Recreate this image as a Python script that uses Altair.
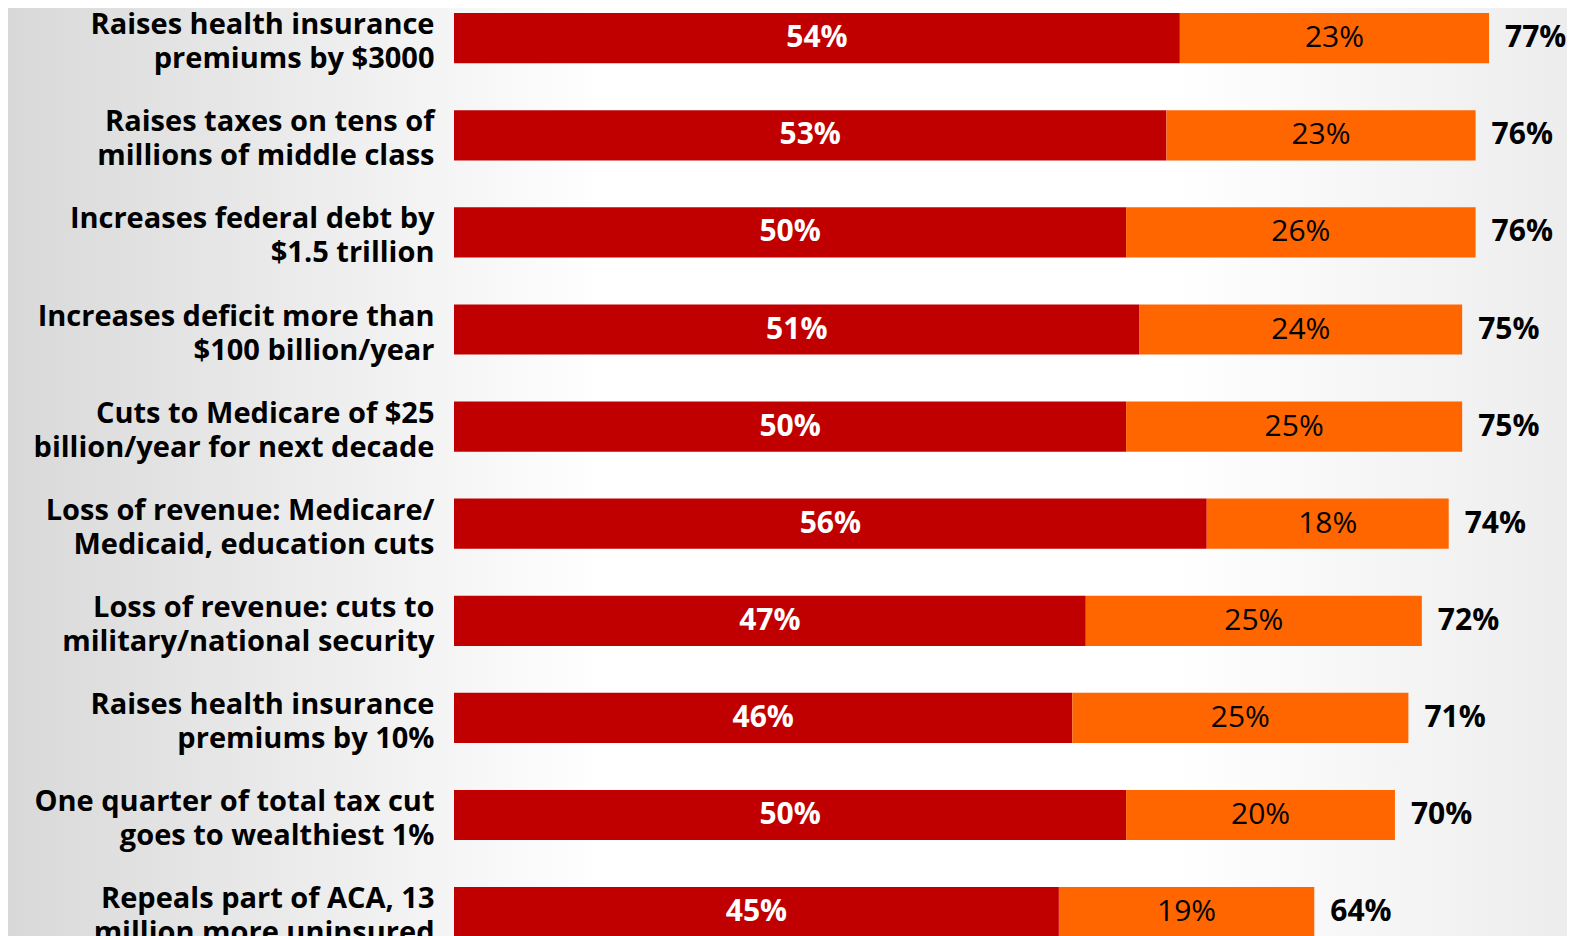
import altair as alt
import pandas as pd

categories = [
    "Raises health insurance\npremiums by $3000",
    "Raises taxes on tens of\nmillions of middle class",
    "Increases federal debt by\n$1.5 trillion",
    "Increases deficit more than\n$100 billion/year",
    "Cuts to Medicare of $25\nbillion/year for next decade",
    "Loss of revenue: Medicare/\nMedicaid, education cuts",
    "Loss of revenue: cuts to\nmilitary/national security",
    "Raises health insurance\npremiums by 10%",
    "One quarter of total tax cut\ngoes to wealthiest 1%",
    "Repeals part of ACA, 13\nmillion more uninsured",
]
red_values = [54, 53, 50, 51, 50, 56, 47, 46, 50, 45]
orange_values = [23, 23, 26, 24, 25, 18, 25, 25, 20, 19]
total_values = [77, 76, 76, 75, 75, 74, 72, 71, 70, 64]

df = pd.DataFrame({
    "cat": categories,
    "red": red_values,
    "orange": orange_values,
    "total": total_values,
})

W = 1113
H = 928
FONT = "Open Sans"

yscale = alt.Scale(domain=categories, range=[-18.35, 952.65],
                   paddingInner=0.483, paddingOuter=0.2415)
xscale = alt.Scale(domain=[0, 82.8], nice=False, zero=True)

yenc = alt.Y("cat:N", sort=categories, scale=yscale, title=None,
             axis=alt.Axis(domain=False, ticks=False, labelPadding=20,
                           labelFont=FONT, labelFontSize=29, labelFontWeight="bold",
                           labelColor="black", labelLimit=0, labelLineHeight=34,
                           labelOffset=-13,
                           labelExpr="split(datum.label, '\\n')", zindex=1))

base = alt.Chart(df)

bg = alt.Chart(pd.DataFrame({"a": [0]})).mark_rect(
    fill={"gradient": "linear", "x1": 0, "y1": 0, "x2": 1, "y2": 0,
          "stops": [{"offset": 0, "color": "#d8d8d8"},
                    {"offset": 0.38, "color": "#ffffff"},
                    {"offset": 0.74, "color": "#ffffff"},
                    {"offset": 1, "color": "#ececec"}]},
    stroke=None,
).encode(x=alt.value(-454), x2=alt.value(W + 20), y=alt.value(-10), y2=alt.value(H + 10))

red_bar = base.mark_bar(color="#C00000").encode(
    x=alt.X("red:Q", scale=xscale, axis=None),
    y=yenc,
)
orange_bar = base.mark_bar(color="#FF6600").encode(
    x=alt.X("red:Q", scale=xscale, axis=None),
    x2="total:Q",
    y=alt.Y("cat:N", sort=categories, scale=yscale),
)
red_text = base.transform_calculate(
    mid="datum.red / 2", lab="datum.red + '%'"
).mark_text(font=FONT, fontSize=30, fontWeight="bold", color="white",
            align="center", baseline="middle").encode(
    x=alt.X("mid:Q", scale=xscale),
    y=alt.Y("cat:N", sort=categories, scale=yscale),
    text="lab:N",
)
orange_text = base.transform_calculate(
    mid="datum.red + datum.orange / 2", lab="datum.orange + '%'"
).mark_text(font=FONT, fontSize=30, color="black",
            align="center", baseline="middle").encode(
    x=alt.X("mid:Q", scale=xscale),
    y=alt.Y("cat:N", sort=categories, scale=yscale),
    text="lab:N",
)
total_text = base.transform_calculate(
    lab="datum.total + '%'"
).mark_text(font=FONT, fontSize=30, fontWeight="bold", color="black",
            align="left", baseline="middle", dx=16).encode(
    x=alt.X("total:Q", scale=xscale),
    y=alt.Y("cat:N", sort=categories, scale=yscale),
    text="lab:N",
)

chart = alt.layer(bg, red_bar, orange_bar, red_text, orange_text, total_text).properties(
    width=W, height=H,
    autosize=alt.AutoSizeParams(type="none"),
    padding={"left": 446, "top": 0, "right": 0, "bottom": 0},
).configure_view(stroke=None).configure(background="white")

chart.save("out.html", embed_options={"renderer": "svg", "actions": False})
